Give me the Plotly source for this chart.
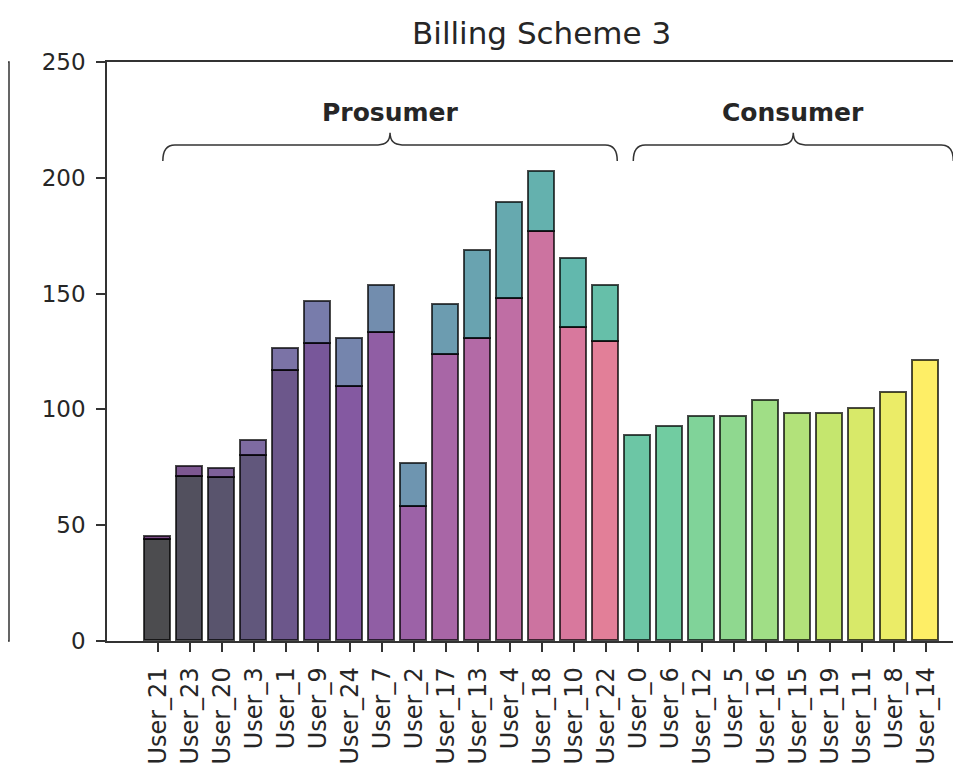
import plotly.graph_objects as go
from plotly.colors import sample_colorscale

# ---------------- data ----------------
prosumers = ["User_21", "User_23", "User_20", "User_3", "User_1", "User_9", "User_24",
             "User_7", "User_2", "User_17", "User_13", "User_4", "User_18", "User_10", "User_22"]
consumers = ["User_0", "User_6", "User_12", "User_5", "User_16", "User_15", "User_19",
             "User_11", "User_8", "User_14"]
prosumer_base = [43.6, 70.6, 70.3, 79.9, 116.7, 128.1, 109.5, 132.8, 57.9, 123.4,
                 130.3, 147.7, 176.5, 135.0, 129.2]
prosumer_extra = [1.4, 4.7, 3.8, 6.6, 9.3, 18.3, 20.8, 20.6, 18.4, 21.7,
                  38.1, 41.3, 26.1, 29.8, 24.1]
consumer_values = [88.7, 92.2, 96.6, 96.6, 103.6, 97.9, 97.9, 100.2, 107.2, 120.9]
y_ticks = [0, 50, 100, 150, 200, 250]
chart_title = "Billing Scheme 3"
group_labels = ["Prosumer", "Consumer"]
group_brace_spans = [(0.15, 14.35), (14.85, 24.85)]
brace_level = 214.2
label_level = 228.4

# ---------------- styling helpers ----------------
ALPHA = 0.7
n_all = len(prosumers) + len(consumers)
fracs = [i / (n_all - 1) for i in range(n_all)]


def to_rgba(c, a=ALPHA):
    c = c.strip()
    if c.startswith("#"):
        r, g, b = int(c[1:3], 16), int(c[3:5], 16), int(c[5:7], 16)
    else:
        vals = c[c.index("(") + 1:c.index(")")].split(",")
        r, g, b = [float(v) for v in vals[:3]]
    return f"rgba({r:.0f},{g:.0f},{b:.0f},{a})"


magma = [to_rgba(c) for c in sample_colorscale("Magma", fracs)]
viridis = [to_rgba(c) for c in sample_colorscale("Viridis", fracs)]

edge = dict(color="rgba(0,0,0,0.7)", width=1.7)
axis_col = "#333333"
text_col = "#262626"
FONT = "DejaVu Sans"

xp = list(range(len(prosumers)))
xc = list(range(len(prosumers), n_all))

fig = go.Figure()
fig.add_bar(x=xp, y=prosumer_base, width=0.8,
            marker=dict(color=magma[:len(prosumers)], line=edge))
fig.add_bar(x=xp, y=prosumer_extra, width=0.8,
            marker=dict(color=viridis[:len(prosumers)], line=edge))
fig.add_bar(x=xc, y=consumer_values, width=0.8,
            marker=dict(color=viridis[len(prosumers):], line=edge))

# page body has an 8px margin: figure is placed at (8, 8) in the window
W, H = 953, 762
L_PX, T_PX, B_PX = 99, 54, 633
fig.update_layout(
    barmode="stack", width=W, height=H,
    margin=dict(l=0, r=0, t=T_PX, b=H - B_PX, pad=0),
    plot_bgcolor="white", paper_bgcolor="white", showlegend=False,
    bargap=0,
)
fig.update_xaxes(
    domain=[L_PX / W, 1], range=[-1.594, 25.09],
    tickvals=xp + xc, ticktext=prosumers + consumers, tickangle=-90,
    ticks="outside", ticklen=9, tickwidth=1.5, tickcolor=axis_col,
    showline=True, linecolor=axis_col, linewidth=1.5, mirror=True,
    showgrid=False, zeroline=False, ticklabelstandoff=6,
    tickfont=dict(family=FONT, size=24, color=text_col),
)
fig.update_yaxes(
    range=[0, 250], tickvals=y_ticks,
    ticks="outside", ticklen=9, tickwidth=1.5, tickcolor=axis_col,
    showline=True, linecolor=axis_col, linewidth=1.5,
    showgrid=False, zeroline=False, ticklabelstandoff=6,
    tickfont=dict(family=FONT, size=23, color=text_col),
)

# title
fig.add_annotation(text=chart_title, xref="paper", yref="paper",
                   x=533 / W, y=1 + (T_PX - 25) / (B_PX - T_PX),
                   xanchor="center", yanchor="middle", showarrow=False,
                   font=dict(family=FONT, size=31, color=text_col))

# braces + group labels
rx_end, ry_end = 0.375, 6.9
rx_tip, ry_tip = 0.375, 5.2
for (xl, xr), lab in zip(group_brace_spans, group_labels):
    xm = (xl + xr) / 2
    yb = brace_level
    path = (f"M {xl},{yb - ry_end} Q {xl},{yb} {xl + rx_end},{yb} "
            f"L {xm - rx_tip},{yb} Q {xm},{yb} {xm},{yb + ry_tip} "
            f"Q {xm},{yb} {xm + rx_tip},{yb} "
            f"L {xr - rx_end},{yb} Q {xr},{yb} {xr},{yb - ry_end}")
    fig.add_shape(type="path", path=path, xref="x", yref="y",
                  line=dict(color=axis_col, width=1.5))
    fig.add_annotation(text=lab, x=xm, y=label_level, xref="x", yref="y",
                       showarrow=False, xanchor="center", yanchor="middle",
                       font=dict(family=FONT, size=25, color=text_col, weight="bold"))

# right spine of the neighbouring (cut-off) panel on the left
fig.add_shape(type="rect", xref="paper", yref="paper",
              x0=-0.1, x1=1 / W, y0=0, y1=1,
              line=dict(color=axis_col, width=1.5), fillcolor="rgba(0,0,0,0)")

fig.write_html("out.html")
